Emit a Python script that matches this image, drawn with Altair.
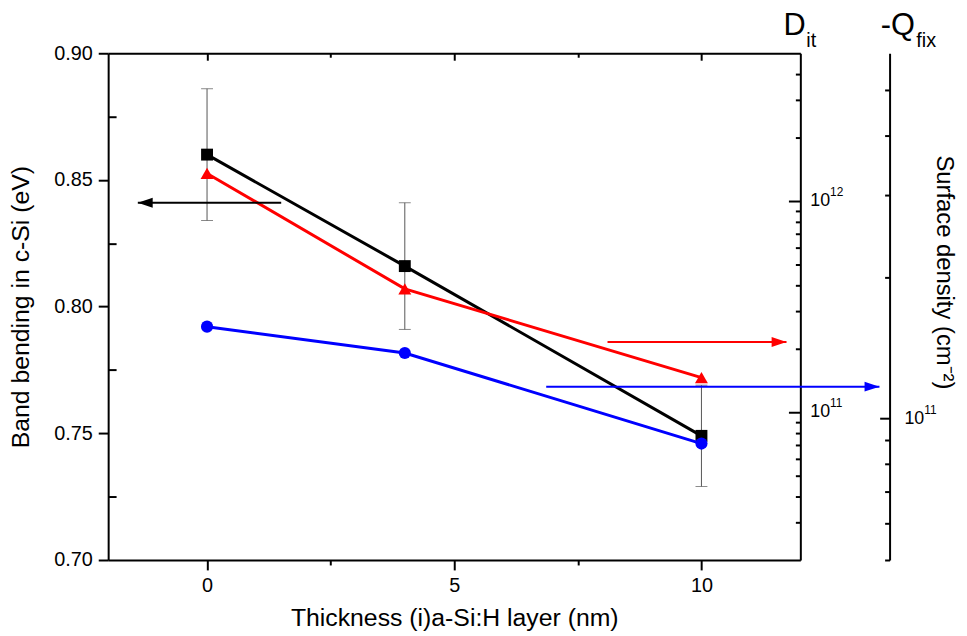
import altair as alt
import pandas as pd

# ---------------- data ----------------
thickness = [0, 4, 10]
band_bending = [0.860, 0.816, 0.749]
band_err = [0.026, 0.025, 0.020]
dit = [1.35e12, 3.84e11, 1.46e11]
qfix = [1.57e11, 1.38e11, 8.85e10]

x_major = [0, 5, 10]
x_minor = [2.5, 7.5]
bb_major = [0.70, 0.75, 0.80, 0.85, 0.90]
bb_minor = [0.725, 0.775, 0.825, 0.875]
dit_major = [1e11, 1e12]
dit_major_exp = ["11", "12"]
dit_minor = [3e10, 4e10, 5e10, 6e10, 7e10, 8e10, 9e10,
             2e11, 3e11, 4e11, 5e11, 6e11, 7e11, 8e11, 9e11,
             2e12, 3e12, 4e12]
q_major = [1e11]
q_major_exp = ["11"]
q_minor = [5e10, 6e10, 7e10, 8e10, 9e10, 2e11, 3e11, 4e11, 5e11]

# annotation arrows (x from, x to, y on its own scale)
arrow_bb = {"x0": [1.5], "x1": [-1.4], "y": [0.841]}
arrow_dit = {"x0": [8.1], "x1": [11.72], "y": [2.15e11]}
arrow_q = {"x0": [6.86], "x1": [13.6], "y": [1.17e11]}

W, H = 698, 511
FONT = "Liberation Sans"

df = pd.DataFrame({
    "t": thickness,
    "bb": band_bending,
    "lo": [b - e for b, e in zip(band_bending, band_err)],
    "hi": [b + e for b, e in zip(band_bending, band_err)],
    "dit": dit,
    "q": qfix,
})

xs = alt.Scale(domain=[-2, 12], nice=False, zero=False)
bbs = alt.Scale(domain=[0.70, 0.90], nice=False, zero=False)
dits = alt.Scale(type="log", domain=[2e10, 5e12], nice=False)
qs = alt.Scale(type="log", domain=[5e10, 6e11], nice=False)

common_axis = dict(domainColor="black", tickColor="black", labelColor="black",
                   labelFont=FONT, titleFont=FONT, titleColor="black",
                   titleFontWeight="normal", grid=False)

def ax(**kw):
    d = dict(common_axis)
    d.update(kw)
    return alt.Axis(**d)

X_none = alt.X("t:Q", scale=xs, axis=None)

# x axes
x_bottom_major = ax(orient="bottom", values=x_major, tickSize=10, tickWidth=2,
                    domainWidth=2, labelFontSize=20, labelPadding=6,
                    title="Thickness (i)a-Si:H layer (nm)", titleFontSize=25,
                    titleY=58, titleBaseline="middle")
x_bottom_minor = ax(orient="bottom", values=x_minor, tickSize=5, tickWidth=2,
                    domain=False, labels=False, title=None)
x_top_major = ax(orient="top", values=x_major, tickSize={"expr": "-7"}, tickWidth=2,
                 domainWidth=2, labels=False, title=None)
x_top_minor = ax(orient="top", values=x_minor, tickSize={"expr": "-4"}, tickWidth=2,
                 domain=False, labels=False, title=None)

# y axes
y_left_major = ax(orient="left", values=bb_major, format=".2f", tickSize=10,
                  tickWidth=2, domainWidth=2, labelFontSize=20, labelPadding=6,
                  title="Band bending in c-Si (eV)", titleFontSize=25,
                  titleX=-88, titleY=H / 2, titleAngle=-90,
                  titleBaseline="middle", titleAlign="center")
y_left_minor = ax(orient="left", values=bb_minor, tickSize={"expr": "-8"},
                  tickWidth=2, domain=False, labels=False, title=None)
y_dit_major = ax(orient="right", values=dit_major, tickSize={"expr": "-12"},
                 tickWidth=2, domainWidth=2, labels=False, title=None)
y_dit_minor = ax(orient="right", values=dit_minor, tickSize={"expr": "-5"},
                 tickWidth=2, domain=False, labels=False, title=None)
y_q_major = ax(orient="right", offset=90, values=q_major, tickSize={"expr": "-10"},
               tickWidth=2, domainWidth=2, labels=False, title=None)
y_q_minor = ax(orient="right", offset=90, values=q_minor, tickSize={"expr": "-5"},
               tickWidth=2, domain=False, labels=False, title=None)

base = alt.Chart(df)

err_rule = base.mark_rule(color="#555555", strokeWidth=1).encode(
    x=X_none, y=alt.Y("lo:Q", scale=bbs, axis=None), y2="hi:Q")
cap_lo = base.mark_tick(orient="horizontal", size=12, thickness=1, color="#555555").encode(
    x=X_none, y=alt.Y("lo:Q", scale=bbs, axis=None))
cap_hi = base.mark_tick(orient="horizontal", size=12, thickness=1, color="#555555").encode(
    x=X_none, y=alt.Y("hi:Q", scale=bbs, axis=None))

bb_line = base.mark_line(color="black", strokeWidth=3).encode(
    x=alt.X("t:Q", scale=xs, axis=x_bottom_major),
    y=alt.Y("bb:Q", scale=bbs, axis=y_left_major))
bb_pts = base.mark_point(shape="square", filled=True, size=144, color="black", opacity=1).encode(
    x=alt.X("t:Q", scale=xs, axis=x_bottom_minor),
    y=alt.Y("bb:Q", scale=bbs, axis=y_left_minor))

dit_line = base.mark_line(color="#ff0000", strokeWidth=3).encode(
    x=alt.X("t:Q", scale=xs, axis=x_top_major),
    y=alt.Y("dit:Q", scale=dits, axis=y_dit_major))
dit_pts = base.mark_point(shape="triangle-up", filled=True, size=170, color="#ff0000", opacity=1).encode(
    x=alt.X("t:Q", scale=xs, axis=x_top_minor),
    y=alt.Y("dit:Q", scale=dits, axis=y_dit_minor))

q_line = base.mark_line(color="#0000ff", strokeWidth=3).encode(
    x=X_none, y=alt.Y("q:Q", scale=qs, axis=y_q_major))
q_pts = base.mark_point(shape="circle", filled=True, size=150, color="#0000ff", opacity=1).encode(
    x=X_none, y=alt.Y("q:Q", scale=qs, axis=y_q_minor))

HEAD_L = "M-1,0L1,-0.67L1,0.67Z"
HEAD_R = "M1,0L-1,-0.67L-1,0.67Z"

def arrow(data, scale, color, path, xoff):
    d = pd.DataFrame(data)
    c = alt.Chart(d)
    shaft = c.mark_rule(color=color, strokeWidth=2).encode(
        x=alt.X("x0:Q", scale=xs, axis=None), x2="x1:Q",
        y=alt.Y("y:Q", scale=scale, axis=None))
    head = c.mark_point(shape=path, filled=True, size=225, color=color, opacity=1,
                        xOffset=xoff).encode(
        x=alt.X("x1:Q", scale=xs, axis=None),
        y=alt.Y("y:Q", scale=scale, axis=None))
    return shaft, head

a1 = arrow(arrow_bb, bbs, "black", HEAD_L, 7.5)
a2 = arrow(arrow_dit, dits, "#ff0000", HEAD_R, -7.5)
a3 = arrow(arrow_q, qs, "#0000ff", HEAD_R, -7.5)

# decade labels (10 with superscript exponent) for the log axes
def decade_labels(values, exps, scale, xpix):
    d = pd.DataFrame({"v": values, "e": exps})
    c = alt.Chart(d)
    base_t = c.mark_text(text="10", font=FONT, fontSize=18, color="black",
                         align="left", baseline="middle").encode(
        x=alt.value(xpix), y=alt.Y("v:Q", scale=scale, axis=None))
    sup_t = c.mark_text(font=FONT, fontSize=12, color="black",
                        align="left", baseline="middle", dy=-9).encode(
        x=alt.value(xpix + 20), y=alt.Y("v:Q", scale=scale, axis=None),
        text="e:N")
    return base_t, sup_t

dl1 = decade_labels(dit_major, dit_major_exp, dits, W + 10)
dl2 = decade_labels(q_major, q_major_exp, qs, W + 105)

labels_df = pd.DataFrame({"a": [0]})
def txt(s, x, y, size, angle=0, align="left", baseline="alphabetic"):
    return alt.Chart(labels_df).mark_text(
        text=s, font=FONT, fontSize=size, color="black", align=align,
        baseline=baseline, angle=angle).encode(x=alt.value(x), y=alt.value(y))

texts = [
    txt("D", 681, -18, 31),
    txt("it", 704, -6, 20),
    txt("-Q", 779, -18, 31),
    txt("fix", 815, -6, 20),
    txt("Surface density (cm⁻²)", 843, 221, 24, angle=90, align="center", baseline="middle"),
]

layers = [err_rule, cap_lo, cap_hi, bb_line, bb_pts, dit_line, dit_pts, q_line, q_pts,
          *a1, *a2, *a3, *dl1, *dl2, *texts]

chart = alt.layer(*layers).resolve_scale(
    y="independent", x="shared"
).resolve_axis(
    y="independent", x="independent"
).properties(
    width=W, height=H,
    autosize=alt.AutoSizeParams(type="none"),
    padding={"left": 101, "top": 43, "right": 160, "bottom": 75},
).configure_view(
    stroke="black", strokeWidth=2
).configure(background="white")

chart.save("out.html", embed_options={"renderer": "svg", "actions": False})
